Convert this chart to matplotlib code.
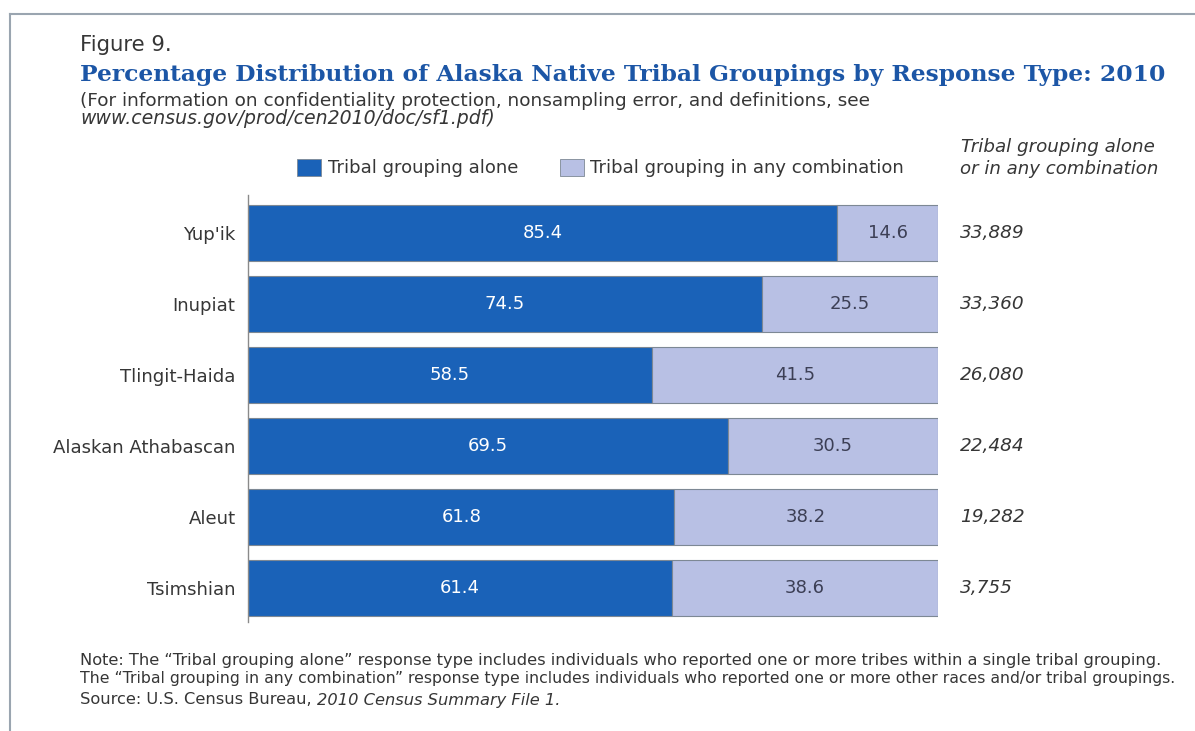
import matplotlib
matplotlib.use("Agg")
import matplotlib.pyplot as plt
from matplotlib.lines import Line2D
from matplotlib.patches import Rectangle

categories = ["Yup'ik", "Inupiat", "Tlingit-Haida", "Alaskan Athabascan", "Aleut", "Tsimshian"]
alone = [85.4, 74.5, 58.5, 69.5, 61.8, 61.4]
combination = [14.6, 25.5, 41.5, 30.5, 38.2, 38.6]
totals = ["33,889", "33,360", "26,080", "22,484", "19,282", "3,755"]

DARK = "#1a62b8"
LIGHT = "#b8c0e4"
TXT = "#363636"
FONT = "DejaVu Sans"

W, H = 1195, 731
fig = plt.figure(figsize=(W / 100, H / 100), dpi=100)
fig.patch.set_facecolor("white")
renderer = fig.canvas.get_renderer()


def fit(t, target):
    w = t.get_window_extent(renderer).width
    t.set_fontsize(t.get_fontsize() * target / w)
    return t


ax = fig.add_axes([248 / W, 1 - 622 / H, (938 - 248) / W, (622 - 195) / H])
y = list(range(len(categories)))
ax.barh(y, alone, height=0.79, color=DARK, edgecolor="#7d8894", linewidth=0.8)
ax.barh(y, combination, left=alone, height=0.79, color=LIGHT, edgecolor="#7d8894", linewidth=0.8)
ax.set_xlim(0, 100)
ax.set_ylim(5.48, -0.535)
ax.set_yticks(y)
ax.set_yticklabels(categories, fontsize=13.1, color=TXT, family=FONT)
ax.tick_params(axis="y", length=0, pad=9)
ax.set_xticks([])
for s in ["top", "right", "bottom"]:
    ax.spines[s].set_visible(False)
ax.spines["left"].set_color("#8a8a8a")
ax.spines["left"].set_linewidth(1.0)

for i in range(len(categories)):
    ax.text(alone[i] / 2, i, f"{alone[i]:.1f}", ha="center", va="center",
            color="white", fontsize=13, family=FONT)
    ax.text(alone[i] + combination[i] / 2, i, f"{combination[i]:.1f}", ha="center", va="center",
            color="#3c3f55", fontsize=13, family=FONT)
    ax.text(1.032, i, totals[i], transform=ax.get_yaxis_transform(),
            ha="left", va="center", color=TXT, fontsize=13.3, style="italic", family=FONT)

# Frame lines
fig.add_artist(Line2D([10 / W, 10 / W], [0, 1 - 14 / H], color="#9aa5b0", lw=1.5, transform=fig.transFigure))
fig.add_artist(Line2D([10 / W, 1], [1 - 14 / H, 1 - 14 / H], color="#9aa5b0", lw=1.5, transform=fig.transFigure))


def ft(x, yy, s, target=None, **kw):
    t = fig.text(x / W, 1 - yy / H, s, **kw)
    if target:
        fit(t, target)
    return t


ft(80, 45, "Figure 9.", target=92, fontsize=13, color=TXT, va="center", family=FONT)
ft(80, 75, "Percentage Distribution of Alaska Native Tribal Groupings by Response Type: 2010",
   target=1087, fontsize=16.5, color="#1c56a6", weight="bold", va="center", family="DejaVu Serif")
ft(80, 101, "(For information on confidentiality protection, nonsampling error, and definitions, see",
   target=786, fontsize=12, color=TXT, va="center", family=FONT)
ft(80, 119, "www.census.gov/prod/cen2010/doc/sf1.pdf)", target=412, fontsize=12, color=TXT, va="center",
   style="italic", family=FONT)

# Legend
fig.add_artist(Rectangle((297 / W, 1 - 176 / H), 24 / W, 17 / H, transform=fig.transFigure,
                         facecolor=DARK, edgecolor="#7d8894", lw=0.6))
lt = ft(590, 168, "Tribal grouping in any combination", target=314, fontsize=13, color=TXT,
        va="center", family=FONT)
ft(328, 168, "Tribal grouping alone", fontsize=lt.get_fontsize(), color=TXT, va="center", family=FONT)
fig.add_artist(Rectangle((560 / W, 1 - 176 / H), 24 / W, 17 / H, transform=fig.transFigure,
                         facecolor=LIGHT, edgecolor="#7d8894", lw=0.6))

ft(961, 147, "Tribal grouping alone", target=193, fontsize=13, color=TXT, va="center", style="italic", family=FONT)
ft(960, 169, "or in any combination", target=197, fontsize=13, color=TXT, va="center", style="italic", family=FONT)

nt = ft(80, 660, "Note: The \u201cTribal grouping alone\u201d response type includes individuals who reported one or more tribes within a single tribal grouping.",
        target=1088, fontsize=11, color=TXT, va="center", family=FONT)
ft(80, 678, "The \u201cTribal grouping in any combination\u201d response type includes individuals who reported one or more other races and/or tribal groupings.",
   target=1100, fontsize=11, color=TXT, va="center", family=FONT)
fs = nt.get_fontsize()
t = fig.text(80 / W, 1 - 700 / H, "Source: U.S. Census Bureau, ", fontsize=fs, color=TXT, va="center", family=FONT)
bb = t.get_window_extent(renderer)
fig.text(bb.x1 / W, 1 - 700 / H, "2010 Census Summary File 1.", fontsize=fs, color=TXT,
         va="center", style="italic", family=FONT)

fig.savefig("out.png", dpi=100)
